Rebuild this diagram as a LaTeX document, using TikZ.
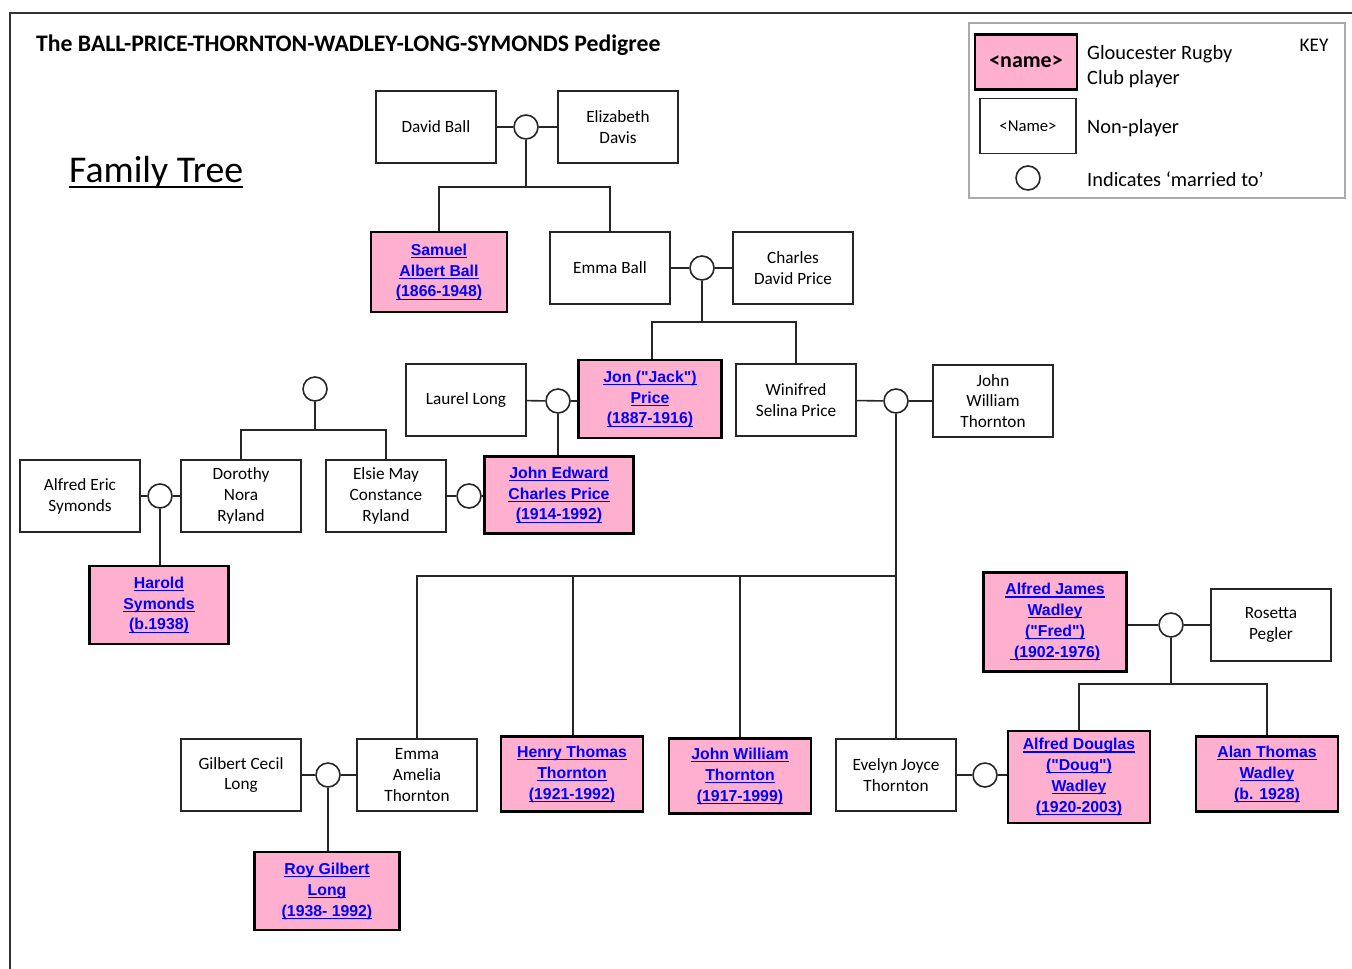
\documentclass[tikz,border=0pt]{standalone}
\usepackage{fontspec}
\setmainfont{Carlito}
\newfontfamily\playerfont{Liberation Sans}
\newcommand{\uln}[1]{\leavevmode\setbox0=\hbox{#1}\rlap{\rule[-1.6pt]{\wd0}{0.65pt}}\box0}
\newcommand{\ulbig}[1]{\leavevmode\setbox0=\hbox{#1}\rlap{\rule[-3.4pt]{\wd0}{1.1pt}}\box0}
\definecolor{playerpink}{RGB}{255,176,206}
\definecolor{playerblue}{RGB}{0,0,255}
\definecolor{keygray}{RGB}{170,170,170}
\begin{document}
\begin{tikzpicture}[x=0.02cm,y=-0.02cm,
    person/.style={draw=black!85,line width=1pt,fill=white,minimum width=2.4cm,minimum height=1.44cm,
      align=center,inner sep=1pt,font=\fontsize{9.8}{11.9}\selectfont},
    player/.style={person,draw=black,line width=1.2pt,fill=playerpink,text=playerblue,
      font=\playerfont\bfseries\fontsize{9}{11.9}\selectfont},
    wed/.style={circle,draw=black!85,line width=0.9pt,fill=white,minimum size=0.48cm,inner sep=0pt},
    link/.style={draw=black!85,line width=0.9pt}]
    \useasboundingbox (0,0) rectangle (1352,969);
    %% page frame
    \draw[black!80,line width=1.1pt] (1352,13) -- (10,13) -- (10,969);
    %% headings
    \node[anchor=west,font=\bfseries\fontsize{13.5}{16}\selectfont] (title) at (30,45)
      {The BALL-PRICE-THORNTON-WADLEY-LONG-SYMONDS Pedigree};
    \node[anchor=west,font=\fontsize{21.5}{26}\selectfont] (heading) at (63,172) {\ulbig{Family Tree}};
    %% key
    \draw[keygray,line width=0.8pt] (969,23) rectangle (1345,198);
    \node[anchor=center,font=\fontsize{11}{13}\selectfont] (keytitle) at (1314,45) {KEY};
    \node[player,text=black,minimum width=2.04cm,minimum height=1.1cm,
      font=\bfseries\fontsize{12.5}{15}\selectfont] (keyplayer) at (1026,62) {<name>};
    \node[person,minimum width=1.92cm,minimum height=1.1cm,font=\fontsize{9.5}{11}\selectfont]
      (keyperson) at (1028,126) {<Name>};
    \node[wed] (keywed) at (1028,178) {};
    \node[anchor=west,align=left,font=\fontsize{11.6}{14.2}\selectfont] (keytext1) at (1081,67)
      {Gloucester Rugby\\Club player};
    \node[anchor=west,font=\fontsize{11.6}{14.2}\selectfont] (keytext2) at (1081,128) {Non-player};
    \node[anchor=west,font=\fontsize{11.6}{14.2}\selectfont] (keytext3) at (1081,179)
      {Indicates ‘married to’};
    %% generation 1
    \node[person] (dball) at (436,127) {David Ball};
    \node[person] (edavis) at (618,127) {Elizabeth\\Davis};
    \node[wed] (w1) at (526,127) {};
    \coordinate (bar1) at (526,187);
    %% generation 2
    \node[player,minimum width=2.72cm,minimum height=1.6cm] (samuel) at (439,272)
      {\uln{Samuel}\\\uln{Albert Ball}\\\uln{(1866-1948)}};
    \node[person] (emma) at (610,268) {Emma Ball};
    \node[person] (cprice) at (793,268) {Charles\\David Price};
    \node[wed] (w2) at (702,268) {};
    \coordinate (bar2) at (702,322);
    %% generation 3
    \node[person] (laurel) at (466,400) {Laurel Long};
    \node[player,minimum width=2.86cm,minimum height=1.56cm] (jon) at (650,399)
      {\uln{Jon ("Jack")}\\\uln{Price}\\\uln{(1887-1916)}};
    \node[wed] (w3) at (558,401) {};
    \node[person] (winifred) at (796,400) {Winifred\\Selina Price};
    \node[person] (jwthornton) at (993,401) {John\\William\\Thornton};
    \node[wed] (w7) at (896,401) {};
    %% Ryland sisters and their husbands
    \node[wed] (w5) at (315,389) {};
    \coordinate (bar5) at (315,430);
    \node[person] (aesymonds) at (80,496) {Alfred Eric\\Symonds};
    \node[person] (dorothy) at (241,496) {Dorothy\\Nora\\Ryland};
    \node[wed] (w6) at (160,496) {};
    \node[person] (elsie) at (386,496) {Elsie May\\Constance\\Ryland};
    \node[wed] (w4) at (469,496) {};
    \node[player,minimum width=2.98cm,minimum height=1.54cm] (jedward) at (559,495)
      {\uln{John Edward}\\\uln{Charles Price}\\\uln{(1914-1992)}};
    \node[player,minimum width=2.78cm,minimum height=1.56cm] (harold) at (159,605)
      {\uln{Harold}\\\uln{Symonds}\\\uln{(b.1938)}};
    %% Thornton children
    \coordinate (bar7) at (896,576);
    \node[person] (gilbert) at (241,775) {Gilbert Cecil\\Long};
    \node[wed] (w10) at (328,775) {};
    \node[person] (emmaA) at (417,775) {Emma\\Amelia\\Thornton};
    \node[player,minimum width=2.84cm,minimum height=1.5cm] (henry) at (572,774)
      {\uln{Henry Thomas}\\\uln{Thornton}\\\uln{(1921-1992)}};
    \node[player,minimum width=2.84cm,minimum height=1.5cm] (jwjunior) at (740,776)
      {\uln{John William}\\\uln{Thornton}\\\uln{(1917-1999)}};
    \node[person] (evelyn) at (896,775) {Evelyn Joyce\\Thornton};
    \node[wed] (w9) at (985,775) {};
    \node[player,minimum width=2.9cm,minimum height=1.56cm] (roy) at (327,891)
      {\uln{Roy Gilbert}\\\uln{Long}\\\uln{(1938- 1992)}};
    %% Wadley family
    \node[player,minimum width=2.86cm,minimum height=1.98cm] (fred) at (1055,622)
      {\uln{Alfred James}\\\uln{Wadley}\\\uln{("Fred")}\\\uln{ (1902-1976)}};
    \node[person] (rosetta) at (1271,625) {Rosetta\\Pegler};
    \node[wed] (w8) at (1171,625) {};
    \coordinate (bar8) at (1171,684);
    \node[player,minimum width=2.84cm,minimum height=1.84cm] (doug) at (1079,777)
      {\uln{Alfred Douglas}\\\uln{("Doug")}\\\uln{Wadley}\\\uln{(1920-2003)}};
    \node[player,minimum width=2.84cm,minimum height=1.5cm] (alan) at (1267,774)
      {\uln{Alan Thomas}\\\uln{Wadley}\\\uln{(b. 1928)}};
    %% marriages
    \draw[link] (dball) -- (w1) -- (edavis);
    \draw[link] (emma) -- (w2) -- (cprice);
    \draw[link] (laurel) -- (w3) -- (jon.west |- w3);
    \draw[link] (winifred) -- (w7) -- (jwthornton);
    \draw[link] (aesymonds) -- (w6) -- (dorothy);
    \draw[link] (elsie) -- (w4) -- (jedward.west |- w4);
    \draw[link] (gilbert) -- (w10) -- (emmaA);
    \draw[link] (evelyn) -- (w9) -- (doug.west |- w9);
    \draw[link] (fred.east |- w8) -- (w8) -- (rosetta);
    %% descent
    \draw[link] (w1) -- (bar1);
    \draw[link] (samuel) |- (bar1) -| (emma);
    \draw[link] (w2) -- (bar2);
    \draw[link] (jon.north -| 652,0) |- (bar2) -| (winifred);
    \draw[link] (w3) -- (w3 |- jedward.north);
    \draw[link] (w5) -- (bar5);
    \draw[link] (dorothy) |- (bar5) -| (elsie);
    \draw[link] (w6) -- (w6 |- harold.north);
    \draw[link] (w7) -- (evelyn);
    \draw[link] (emmaA) |- (bar7);
    \draw[link] (henry.north -| 573,0) -- (573,576);
    \draw[link] (jwjunior) -- (jwjunior |- bar7);
    \draw[link] (w10) -- (w10 |- roy.north);
    \draw[link] (w8) -- (bar8);
    \draw[link] (doug) |- (bar8) -| (alan);
\end{tikzpicture}
\end{document}
